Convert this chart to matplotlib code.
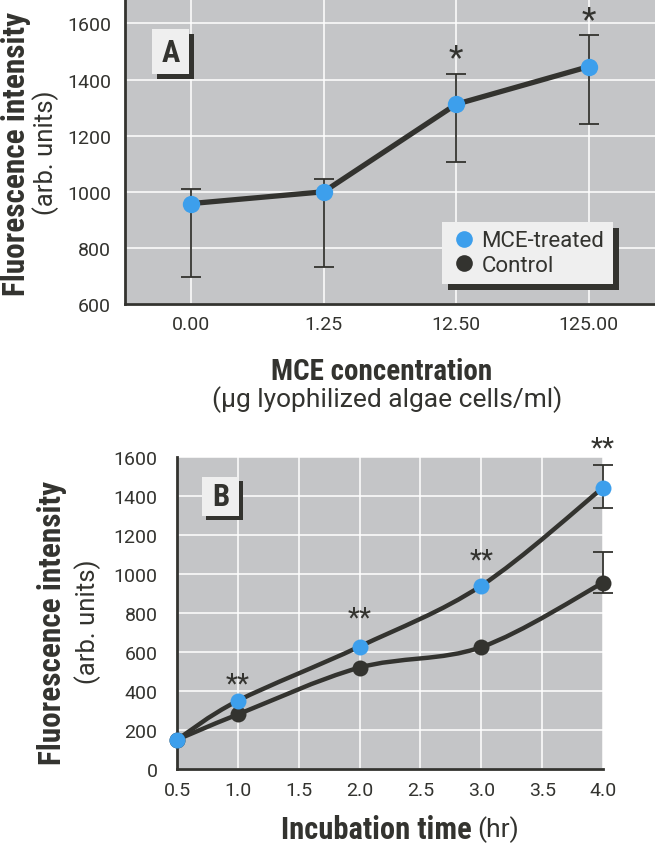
import numpy as np
import matplotlib
matplotlib.use('Agg')
import matplotlib.pyplot as plt
from matplotlib.path import Path
from matplotlib.patches import PathPatch, Rectangle
from matplotlib.lines import Line2D
from matplotlib.transforms import IdentityTransform, offset_copy

plt.rcParams['font.family'] = ['Roboto', 'DejaVu Sans']
BOLD_FAMILY = ['Roboto Condensed', 'Roboto', 'DejaVu Sans']

# ---- panel A data ----
conc_labels = ['0.00', '1.25', '12.50', '125.00']
mce_a = [958, 1000, 1312, 1446]
mce_a_hi = [1010, 1047, 1420, 1557]
mce_a_lo = [695, 732, 1107, 1243]
star_a_idx = [2, 3]
star_a_y = [1505, 1641]

# ---- panel B data ----
time_h = [0.5, 1.0, 2.0, 3.0, 4.0]
mce_b = [150, 350, 628, 940, 1443]
ctrl_b = [150, 280, 520, 625, 955]
# error bars only visible at the last time point
mce_b_hi, mce_b_lo = 1560, 1338
ctrl_b_hi, ctrl_b_lo = 1113, 903
star_b_x = [1.0, 2.0, 3.0, 4.0]
star_b_y = [462, 804, 1100, 1677]

W, H = 655, 845
bg = '#c4c5c7'
dark = '#33332f'
blue = '#3d9fec'


def fx(px):
    return px / W


def fy(py):
    return 1 - py / H


def style_axes(ax, ypad, xpad):
    ax.set_facecolor(bg)
    ax.grid(color='white', lw=1.1)
    ax.set_axisbelow(True)
    for s in ['top', 'right']:
        ax.spines[s].set_visible(False)
    for s in ['left', 'bottom']:
        ax.spines[s].set_color(dark)
        ax.spines[s].set_linewidth(2)
    ax.tick_params(axis='both', length=0, labelsize=14, colors=dark)
    ax.tick_params(axis='y', pad=ypad)
    ax.tick_params(axis='x', pad=xpad)


def label_box(fig, letter, x0, y0, w, h, off):
    fig.patches.append(Rectangle((fx(x0 + off), fy(y0 + h + off)), w / W, h / H,
                                 transform=fig.transFigure, facecolor=dark,
                                 edgecolor='none', zorder=5))
    fig.patches.append(Rectangle((fx(x0), fy(y0 + h)), w / W, h / H,
                                 transform=fig.transFigure, facecolor='#efefef',
                                 edgecolor='none', zorder=6))
    fig.text(fx(x0 + w / 2), fy(y0 + h / 2), letter, ha='center', va='center',
             fontsize=22, fontweight='bold', family=BOLD_FAMILY, color=dark, zorder=7)


def smooth_path(x, y):
    pts = np.column_stack([x, y]).astype(float)
    ext = np.vstack([pts[0], pts, pts[-1]])
    verts = [pts[0]]
    codes = [Path.MOVETO]
    for i in range(len(pts) - 1):
        p0, p1, p2, p3 = ext[i], ext[i + 1], ext[i + 2], ext[i + 3]
        verts += [p1 + (p2 - p0) / 6, p2 - (p3 - p1) / 6, p2]
        codes += [Path.CURVE4] * 3
    return Path(verts, codes)


fig = plt.figure(figsize=(W / 100, H / 100), dpi=100)
fig.patch.set_facecolor('white')

# ================= panel A =================
axA = fig.add_axes([fx(125), fy(305), 530 / W, 305 / H])
style_axes(axA, 10, 8)
xa = np.arange(len(conc_labels))
axA.errorbar(xa, mce_a,
             yerr=[np.array(mce_a) - np.array(mce_a_lo), np.array(mce_a_hi) - np.array(mce_a)],
             fmt='none', ecolor=dark, elinewidth=1.3, capsize=7.5, capthick=1.3, zorder=2)
axA.plot(xa, mce_a, color=dark, lw=3.8, zorder=3, solid_capstyle='round')
axA.plot(xa, mce_a, 'o', ms=12.5, color=blue, mec='none', zorder=4)
# asterisk glyph sits high in its box: shift it down so its centre is at y
star_tr_a = offset_copy(axA.transData, fig=fig, y=-6, units='points')
for i, yv in zip(star_a_idx, star_a_y):
    axA.text(xa[i], yv, '*', ha='center', va='center', fontsize=24, color=dark,
             clip_on=False, transform=star_tr_a)
axA.set_xticks(xa)
axA.set_xticklabels(conc_labels)
axA.set_xlim(-0.5, 3.5)
axA.set_ylim(600, 1687)
axA.set_yticks(np.arange(600, 1601, 200))

leg = axA.legend(handles=[Line2D([], [], ls='none', marker='o', ms=12, color=blue, mec='none'),
                          Line2D([], [], ls='none', marker='o', ms=12, color=dark, mec='none')],
                 labels=['MCE-treated', 'Control'], loc='upper left',
                 bbox_to_anchor=(0.598, 0.269), borderaxespad=0, frameon=True,
                 fancybox=False, fontsize=16, handletextpad=0.2, labelspacing=0.15,
                 borderpad=0.38, handlelength=1.2, labelcolor=dark)
leg.get_frame().set_facecolor('#efefef')
leg.get_frame().set_edgecolor('none')
leg.get_frame().set_alpha(1)

fig.text(fx(16), fy(154), 'Fluorescence intensity', rotation=90, ha='center',
         va='center', fontsize=22.5, fontweight='bold', family=BOLD_FAMILY, color=dark)
fig.text(fx(46), fy(153), '(arb. units)', rotation=90, ha='center', va='center',
         fontsize=18.5, color=dark)
fig.text(fx(382), fy(372), 'MCE concentration', ha='center', va='center',
         fontsize=21, fontweight='bold', family=BOLD_FAMILY, color=dark)
fig.text(fx(387), fy(400), '(\u00b5g lyophilized algae cells/ml)', ha='center',
         va='center', fontsize=19, color=dark)
label_box(fig, 'A', 152, 30, 37, 45, 5)

# ================= panel B =================
axB = fig.add_axes([fx(177), fy(770), 426 / W, 312 / H])
style_axes(axB, 14, 9)
for yv in [mce_b, ctrl_b]:
    axB.add_patch(PathPatch(smooth_path(time_h, yv), facecolor='none',
                            edgecolor=dark, lw=3.2, zorder=3, clip_on=False))
axB.errorbar([time_h[-1]], [mce_b[-1]],
             yerr=[[mce_b[-1] - mce_b_lo], [mce_b_hi - mce_b[-1]]],
             fmt='none', ecolor=dark, elinewidth=1.3, capsize=7.5, capthick=1.3,
             zorder=2, clip_on=False)
axB.errorbar([time_h[-1]], [ctrl_b[-1]],
             yerr=[[ctrl_b[-1] - ctrl_b_lo], [ctrl_b_hi - ctrl_b[-1]]],
             fmt='none', ecolor=dark, elinewidth=1.3, capsize=7.5, capthick=1.3,
             zorder=2, clip_on=False)
axB.plot(time_h, ctrl_b, 'o', ms=11.5, color=dark, mec='none', zorder=4, clip_on=False)
axB.plot(time_h, mce_b, 'o', ms=11.5, color=blue, mec='none', zorder=5, clip_on=False)
star_tr_b = offset_copy(axB.transData, fig=fig, y=-4, units='points')
for xv, yv in zip(star_b_x, star_b_y):
    axB.text(xv, yv, '**', ha='center', va='center', fontsize=20, color=dark,
             clip_on=False, transform=star_tr_b)
axB.set_xlim(0.5, 4.0)
axB.set_ylim(0, 1600)
axB.set_xticks(np.arange(0.5, 4.01, 0.5))
axB.set_xticklabels(['%.1f' % v for v in np.arange(0.5, 4.01, 0.5)])
axB.set_yticks(np.arange(0, 1601, 200))

fig.text(fx(52), fy(623), 'Fluorescence intensity', rotation=90, ha='center',
         va='center', fontsize=22.5, fontweight='bold', family=BOLD_FAMILY, color=dark)
fig.text(fx(88), fy(622), '(arb. units)', rotation=90, ha='center', va='center',
         fontsize=18.5, color=dark)
fig.text(fx(472), fy(830), 'Incubation time', ha='right', va='center',
         fontsize=22, fontweight='bold', family=BOLD_FAMILY, color=dark)
fig.text(fx(477), fy(830), '(hr)', ha='left', va='center', fontsize=19, color=dark)
label_box(fig, 'B', 202, 478, 37, 39, 4)

# legend shadow, placed after layout is known
fig.canvas.draw()
bb = leg.get_window_extent()
axA.add_patch(Rectangle((bb.x0 + 6, bb.y0 - 6), bb.width, bb.height,
                        transform=IdentityTransform(), facecolor=dark,
                        edgecolor='none', zorder=4.9, clip_on=False))

fig.savefig('out.png', dpi=100, facecolor=fig.get_facecolor())
